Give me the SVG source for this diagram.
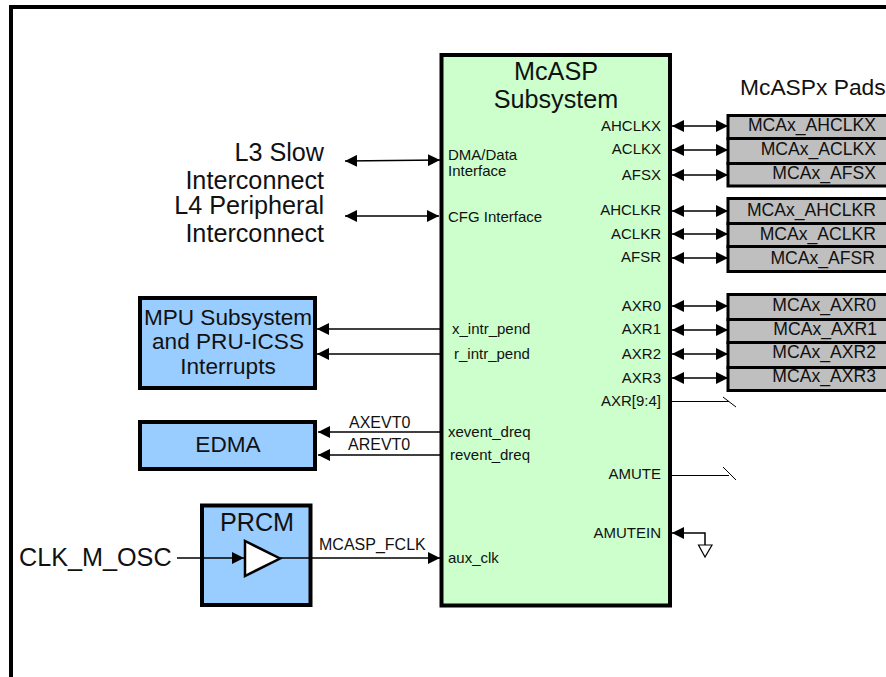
<svg xmlns="http://www.w3.org/2000/svg" width="886" height="677" viewBox="0 0 886 677">
<style>
text{font-family:"Liberation Sans",Arial,sans-serif;fill:#111}
.box{stroke:#000;stroke-width:4}
.blue{fill:#99ccff}
.green{fill:#ccffcc}
.pad{fill:#bfbfbf;stroke:#000;stroke-width:3}
.t12{font-size:15px}
.t15{font-size:17.600px;text-anchor:end}
.t24{font-size:25.200px}
.t22{font-size:22.600px}
.t16{font-size:16px}
.mid{text-anchor:middle}
.end{text-anchor:end}
.c{fill:none;stroke:#000;stroke-width:1.500}
.s{fill:none;stroke:#000;stroke-width:1}
</style>
<defs>
<marker id="a" viewBox="0 0 12 12" refX="12" refY="6" markerUnits="userSpaceOnUse" markerWidth="12" markerHeight="12" orient="auto-start-reverse"><path d="M0 0L12 6L0 12Z" fill="#000"/></marker>
</defs>
<path id="frame" d="M11 677V7H886" fill="none" stroke="#000" stroke-width="4"/>
<g id="mcasp"><rect class="box green" x="441.500" y="55" width="228.500" height="550.500"/>
<text class="t24 mid" x="556" y="80">McASP</text><text class="t24 mid" x="556" y="108">Subsystem</text>
<g class="t12"><text x="448" y="160">DMA/Data</text><text x="448" y="176">Interface</text><text x="448" y="222">CFG Interface</text><text x="452" y="334">x_intr_pend</text><text x="454" y="359">r_intr_pend</text><text x="448" y="437">xevent_dreq</text><text x="450" y="460">revent_dreq</text><text x="448" y="563">aux_clk</text></g>
<g class="t12 end"><text x="661" y="131">AHCLKX</text><text x="661" y="154">ACLKX</text><text x="661" y="180">AFSX</text><text x="661" y="215">AHCLKR</text><text x="661" y="239">ACLKR</text><text x="661" y="262">AFSR</text><text x="661" y="311">AXR0</text><text x="661" y="334">AXR1</text><text x="661" y="359">AXR2</text><text x="661" y="383">AXR3</text><text x="661" y="406">AXR[9:4]</text><text x="661" y="479">AMUTE</text><text x="661" y="538">AMUTEIN</text></g></g>
<text id="pads-title" x="740" y="95" style="font-size:22.800px">McASPx Pads</text>
<g id="pads-x"><rect class="pad" x="728" y="115.500" width="165" height="23"/><rect class="pad" x="728" y="138.500" width="165" height="25"/><rect class="pad" x="728" y="163.500" width="165" height="22.500"/>
<g class="t15"><text x="876" y="131">MCAx_AHCLKX</text><text x="876" y="155">MCAx_ACLKX</text><text x="876" y="179">MCAx_AFSX</text></g></g>
<g id="pads-r"><rect class="pad" x="728" y="198.500" width="165" height="25"/><rect class="pad" x="728" y="223.500" width="165" height="23"/><rect class="pad" x="728" y="246.500" width="165" height="25"/>
<g class="t15"><text x="876" y="216">MCAx_AHCLKR</text><text x="876" y="240">MCAx_ACLKR</text><text x="875" y="264">MCAx_AFSR</text></g></g>
<g id="pads-axr"><rect class="pad" x="728" y="294.500" width="165" height="25"/><rect class="pad" x="728" y="319.500" width="165" height="23"/><rect class="pad" x="728" y="342.500" width="165" height="25"/><rect class="pad" x="728" y="367.500" width="165" height="23"/>
<g class="t15"><text x="876" y="311">MCAx_AXR0</text><text x="877" y="335">MCAx_AXR1</text><text x="876" y="358">MCAx_AXR2</text><text x="876" y="382">MCAx_AXR3</text></g></g>
<g id="l3"><text class="t24 end" x="324" y="161">L3 Slow</text><text class="t24 end" x="324" y="189">Interconnect</text></g>
<g id="l4"><text class="t24 end" x="324" y="214">L4 Peripheral</text><text class="t24 end" x="324" y="242">Interconnect</text></g>
<g id="mpu"><rect class="box blue" x="140" y="298" width="175" height="90"/><text class="t22 mid" x="228" y="325">MPU Subsystem</text><text class="t22 mid" x="228" y="349">and PRU-ICSS</text><text class="t22 mid" x="228" y="374">Interrupts</text></g>
<g id="edma"><rect class="box blue" x="140" y="422" width="175" height="47"/><text class="t22 mid" x="228" y="452">EDMA</text></g>
<g id="prcm"><rect class="box blue" x="202" y="505.500" width="108.500" height="99.500"/><text class="t24 mid" x="257" y="531">PRCM</text><path d="M245 541V576L280 558.500Z" fill="#fff" stroke="#000" stroke-width="2.500"/></g>
<text id="clk" class="t24" x="19" y="566">CLK_M_OSC</text>
<g id="connectors">
<path class="c" marker-start="url(#a)" marker-end="url(#a)" d="M345 161L440 160"/>
<path class="c" marker-start="url(#a)" marker-end="url(#a)" d="M345 216H439"/>
<path class="c" marker-end="url(#a)" d="M440 329H317"/>
<path class="c" marker-end="url(#a)" d="M440 354H317"/>
<path class="c" marker-end="url(#a)" d="M440 432H318"/>
<path class="c" marker-end="url(#a)" d="M440 455H318"/>
<path class="c" marker-end="url(#a)" d="M177 558H244"/>
<path class="c" marker-end="url(#a)" d="M280 558H440"/>
<path class="c" marker-start="url(#a)" marker-end="url(#a)" d="M672 126H728"/>
<path class="c" marker-start="url(#a)" marker-end="url(#a)" d="M672 150H728"/>
<path class="c" marker-start="url(#a)" marker-end="url(#a)" d="M672 175H728"/>
<path class="c" marker-start="url(#a)" marker-end="url(#a)" d="M672 211H728"/>
<path class="c" marker-start="url(#a)" marker-end="url(#a)" d="M672 234H728"/>
<path class="c" marker-start="url(#a)" marker-end="url(#a)" d="M672 258H728"/>
<path class="c" marker-start="url(#a)" marker-end="url(#a)" d="M672 306H728"/>
<path class="c" marker-start="url(#a)" marker-end="url(#a)" d="M672 330H728"/>
<path class="c" marker-start="url(#a)" marker-end="url(#a)" d="M672 354H728"/>
<path class="c" marker-start="url(#a)" marker-end="url(#a)" d="M672 378H728"/>
<path class="s" d="M672 401.500H729M723 397L736 407"/>
<path class="s" d="M672 475.500H729M723 467L736 480"/>
<path class="c" marker-start="url(#a)" d="M672 533H705V545"/>
<path d="M698.500 545H712L705 557Z" fill="#fff" stroke="#000" stroke-width="1.200"/>
</g>
<g id="labels" class="t16"><text x="349" y="428">AXEVT0</text><text x="348" y="450">AREVT0</text><text x="319" y="550">MCASP_FCLK</text></g>
</svg>
